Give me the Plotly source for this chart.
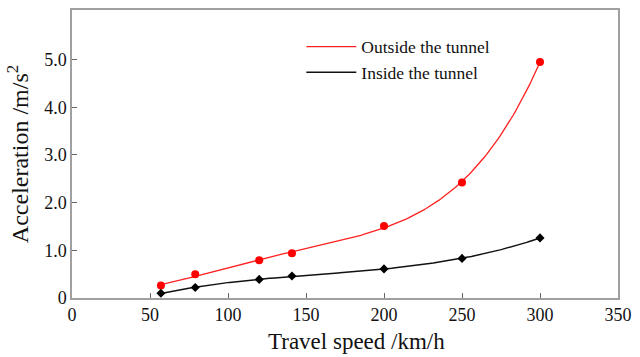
import numpy as np
import plotly.graph_objects as go

speed = [57, 79, 120, 141, 200, 250, 300]
outside = [0.26, 0.50, 0.79, 0.94, 1.51, 2.42, 4.95]
inside = [0.10, 0.22, 0.39, 0.46, 0.61, 0.83, 1.26]

x_ticks = [0, 50, 100, 150, 200, 250, 300, 350]
y_ticks = [0, 1, 2, 3, 4, 5]
y_tick_text = ["0", "1.0", "2.0", "3.0", "4.0", "5.0"]

# trend lines fitted from the data points
xf = np.linspace(min(speed), max(speed), 200)
red_fit = np.polyval(np.polyfit(speed, outside, 4), xf)
blk_fit = np.polyval(np.polyfit(speed, inside, 3), xf)

serif = "Liberation Serif, Times New Roman, serif"

fig = go.Figure()
fig.add_trace(go.Scatter(x=xf, y=red_fit, mode="lines", name="Outside the tunnel",
                         line=dict(color="#ff2020", width=1.3)))
fig.add_trace(go.Scatter(x=xf, y=blk_fit, mode="lines", name="Inside the tunnel",
                         line=dict(color="#111111", width=1.5)))
fig.add_trace(go.Scatter(x=speed, y=outside, mode="markers", showlegend=False,
                         marker=dict(color="#ff0000", size=8)))
fig.add_trace(go.Scatter(x=speed, y=inside, mode="markers", showlegend=False,
                         marker=dict(color="#000000", size=7, symbol="diamond")))

axis_common = dict(showline=True, linecolor="#a0a0a0", linewidth=1.5, mirror=True,
                   ticks="inside", ticklen=5, tickcolor="#666666", showgrid=False,
                   zeroline=False, tickfont=dict(family=serif, size=18, color="#111"))

fig.update_xaxes(range=[0, 350], tickvals=x_ticks, **axis_common)
fig.update_yaxes(range=[0, 6.04], tickvals=y_ticks, ticktext=y_tick_text,
                 title=dict(text="Acceleration /m/s<sup>2</sup>", font=dict(family=serif, size=24, color="#111"),
                            standoff=9),
                 **axis_common)

fig.add_annotation(text="Travel speed /km/h", xref="paper", yref="paper",
                   x=0.521, y=-0.152, xanchor="center", yanchor="middle", showarrow=False,
                   font=dict(family=serif, size=23, color="#111"))

fig.update_layout(
    width=640, height=357,
    margin=dict(l=72, r=15, t=8, b=59),
    paper_bgcolor="white", plot_bgcolor="white",
    legend=dict(x=0.42, y=0.935, xanchor="left", yanchor="top", itemwidth=50,
                font=dict(family=serif, size=17.5, color="#111"),
                bgcolor="rgba(0,0,0,0)"),
)

fig.write_html("out.html")
